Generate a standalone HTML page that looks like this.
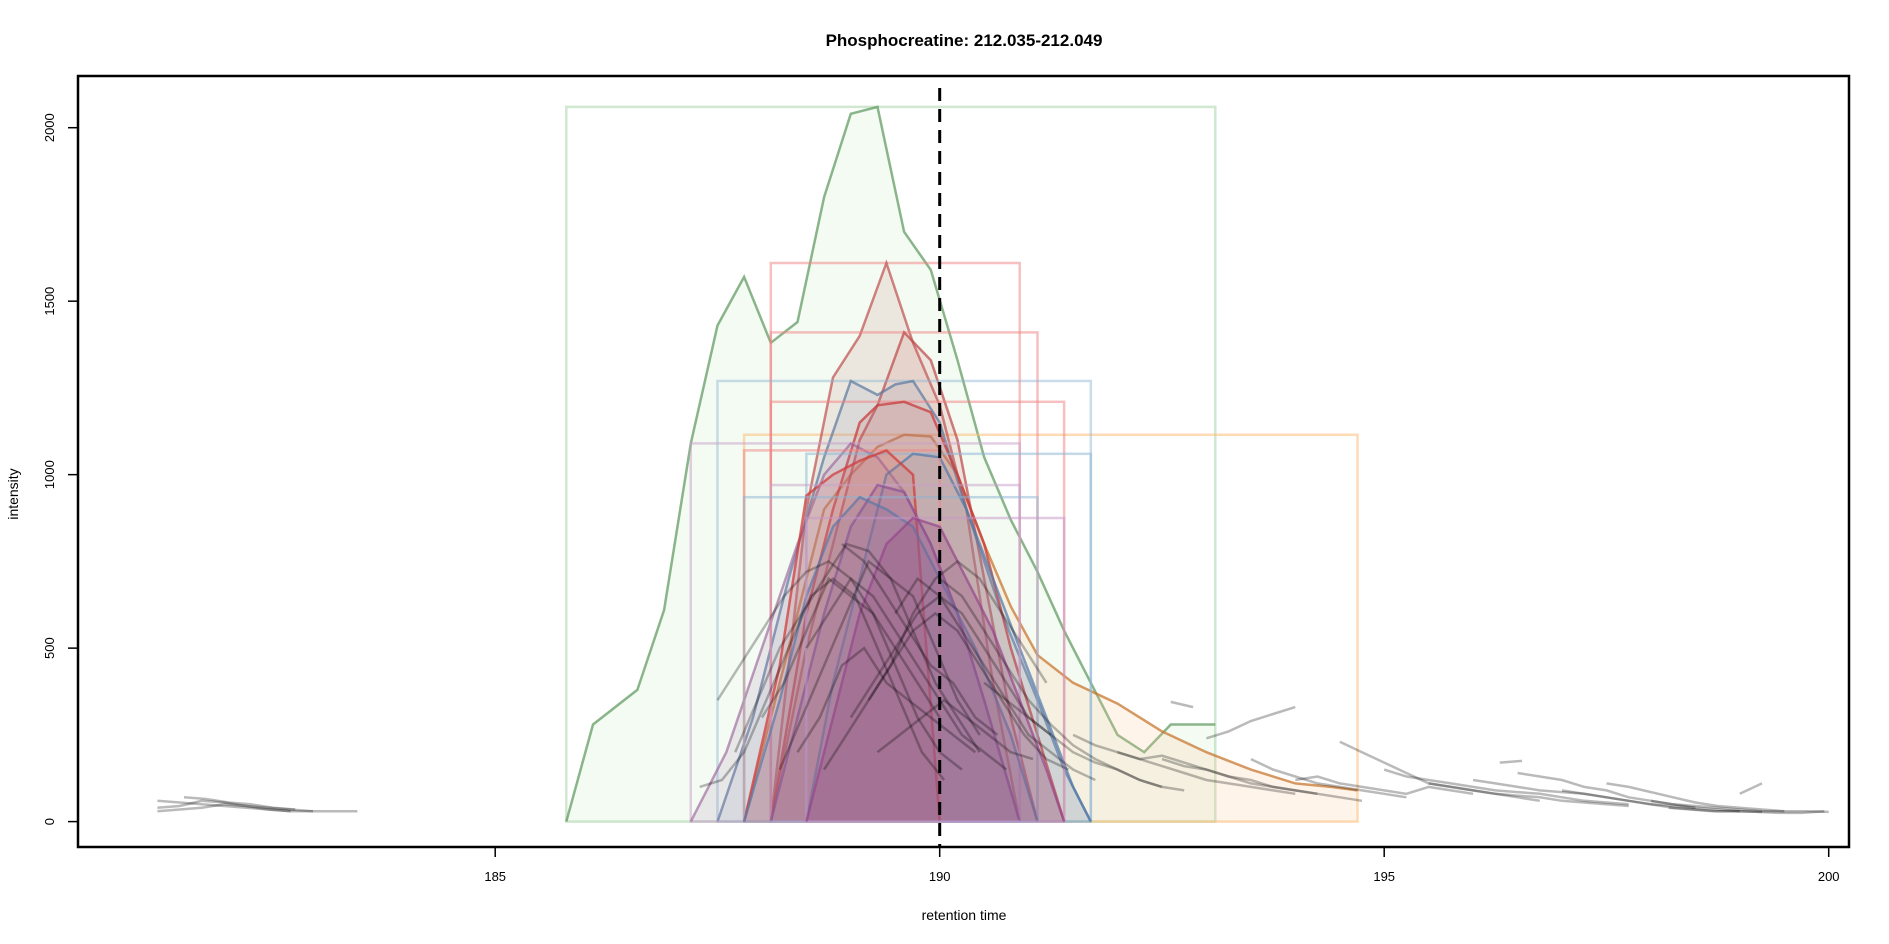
<!DOCTYPE html>
<html><head><meta charset="utf-8"><style>
body{margin:0;background:#fff}
svg{display:block;font-family:"Liberation Sans",sans-serif}
</style></head><body>
<svg id="chart" width="1889" height="944" viewBox="0 0 1889 944" xmlns="http://www.w3.org/2000/svg">
<rect x="0" y="0" width="1889" height="944" fill="#fff"/>
<text x="964" y="46" text-anchor="middle" font-size="17" font-weight="bold">Phosphocreatine: 212.035-212.049</text>
<text x="964" y="920" text-anchor="middle" font-size="14">retention time</text>
<text x="0" y="0" transform="translate(18,494) rotate(-90)" text-anchor="middle" font-size="14">intensity</text>
<g id="marks"></g>
<g id="axes"></g>
<rect x="78" y="76" width="1771" height="771" fill="none" stroke="#000" stroke-width="2.5"/>
</svg>
<script>
const xTicks = [185, 190, 195, 200];
const yTicks = [0, 500, 1000, 1500, 2000];
const markerRT = 190;
// colored feature peaks: box [start, end, height], trace times & values
const peakBoxes = [
  [185.8, 193.1, 2060],
  [187.8, 194.7, 1115],
  [188.1, 190.9, 1610],
  [188.1, 191.1, 1410],
  [187.5, 191.7, 1270],
  [188.1, 191.4, 1210],
  [187.2, 190.9, 1090],
  [188.5, 191.7, 1060],
  [187.8, 190.0, 1070],
  [188.1, 190.9, 970],
  [187.8, 191.1, 935],
  [188.5, 191.4, 875]
];
const peakTimes = [
  [185.8,186.1,186.6,186.9,187.2,187.5,187.8,188.1,188.4,188.7,189.0,189.3,189.6,189.9,190.2,190.5,190.8,191.1,191.4,191.7,192.0,192.3,192.6,192.9,193.1],
  [187.8,188.1,188.4,188.7,189.0,189.3,189.6,189.9,190.2,190.5,190.8,191.1,191.5,192.0,192.5,193.0,193.5,194.0,194.4,194.7],
  [188.1,188.5,188.8,189.1,189.4,189.7,190.0,190.3,190.6,190.9],
  [188.1,188.5,188.8,189.1,189.3,189.6,189.9,190.2,190.5,190.8,191.1],
  [187.5,187.9,188.3,188.7,189.0,189.3,189.5,189.7,190.0,190.3,190.7,191.1,191.4,191.7],
  [188.1,188.5,188.8,189.1,189.3,189.6,189.9,190.2,190.5,190.8,191.1,191.4],
  [187.2,187.6,188.0,188.4,188.7,189.0,189.3,189.6,189.9,190.2,190.5,190.9],
  [188.5,188.8,189.1,189.4,189.7,190.0,190.3,190.6,190.9,191.2,191.5,191.7],
  [187.8,188.2,188.5,188.8,189.1,189.4,189.7,190.0],
  [188.1,188.4,188.7,189.0,189.3,189.6,189.9,190.2,190.5,190.9],
  [187.8,188.2,188.5,188.8,189.1,189.4,189.7,190.0,190.4,190.8,191.1],
  [188.5,188.8,189.1,189.4,189.7,190.0,190.3,190.6,190.9,191.2,191.4]
];
const peakVals = [
  [0,280,380,610,1090,1430,1570,1380,1440,1800,2040,2060,1700,1590,1330,1050,870,720,550,400,250,200,280,280,280],
  [0,300,600,900,1000,1080,1115,1110,1000,800,620,480,400,340,260,200,150,110,100,90],
  [0,900,1280,1400,1610,1380,1200,900,400,0],
  [0,500,800,1100,1200,1410,1330,1100,700,300,0],
  [0,300,700,1050,1270,1230,1260,1270,1150,900,600,350,150,0],
  [0,600,900,1150,1200,1210,1180,1000,800,500,250,0],
  [0,200,500,800,1000,1090,1050,950,800,600,350,0],
  [0,400,700,1000,1060,1050,900,700,500,300,100,0],
  [0,450,940,1000,1040,1070,1000,0],
  [0,300,600,850,970,950,800,600,350,0],
  [0,350,650,850,935,900,850,700,500,250,0],
  [0,300,600,800,875,850,700,550,350,150,0]
];
const peakColors = [
  ["rgba(90,150,90,0.7)","rgba(200,235,200,0.22)","rgba(160,210,160,0.5)"],
  ["rgba(200,120,50,0.75)","rgba(253,200,150,0.2)","rgba(253,190,120,0.55)"],
  ["rgba(190,80,80,0.7)","rgba(200,120,110,0.15)","rgba(240,130,130,0.5)"],
  ["rgba(190,70,70,0.7)","rgba(200,100,100,0.15)","rgba(240,130,130,0.5)"],
  ["rgba(90,120,160,0.7)","rgba(130,150,180,0.15)","rgba(140,180,210,0.45)"],
  ["rgba(200,60,60,0.75)","rgba(200,90,90,0.15)","rgba(240,130,130,0.5)"],
  ["rgba(150,90,150,0.6)","rgba(170,120,170,0.15)","rgba(200,160,200,0.5)"],
  ["rgba(80,120,170,0.7)","rgba(120,150,190,0.18)","rgba(140,180,210,0.5)"],
  ["rgba(210,60,60,0.75)","rgba(210,100,100,0.2)","rgba(240,130,130,0.5)"],
  ["rgba(140,80,150,0.7)","rgba(150,90,150,0.25)","rgba(200,160,200,0.5)"],
  ["rgba(90,120,170,0.7)","rgba(130,110,160,0.25)","rgba(140,180,210,0.5)"],
  ["rgba(150,70,140,0.7)","rgba(150,80,130,0.3)","rgba(200,150,200,0.5)"]
];
// grey raw traces: start time, 0.25 min step, values
const greyStarts = [181.2,181.2,181.2,181.5,187.3,187.5,187.7,188.0,188.2,188.4,188.5,188.7,189.0,189.3,189.5,190.0,190.5,191.5,192.0,192.6,193.0,193.5,194.5,195.0,195.5,196.0,196.5,197.0,197.5,198.0,198.2,199.0,194.0,196.3,192.5,188.9,189.2];
const greyVals = [
  [60,55,50,45,40,35,30],
  [40,45,60,55,45,35,30,30],
  [30,35,40,50,45,40,35,30,30,30],
  [70,65,55,50,40,35],
  [100,120,200,350,500,650,700,650,500,350,200,120],
  [350,450,550,650,720,750,700,600,450,300,200,150],
  [200,350,500,600,700,800,780,700,550,400,300,200],
  [300,400,550,700,650,600,500,400,300],
  [150,300,450,600,750,700,650,500,350,250],
  [200,300,450,500,400,350,300,250,200],
  [500,600,700,650,550,450,350,250,200,150],
  [150,250,350,450,550,600,550,450,350,250,180,150],
  [300,400,500,600,650,600,500,400,300,250],
  [200,250,300,350,300,250,200,180],
  [600,700,650,550,450,350,250,200,150,120],
  [700,650,550,450,350,280,220,180,150,120,100],
  [400,350,300,250,200,170,150,120,100,90],
  [250,220,200,180,160,140,120,110,100,90,80],
  [200,180,190,170,150,130,120,100,90,80],
  [345,330],
  [240,260,290,310,330],
  [180,150,130,110,100,90,80,70],
  [230,200,170,140,110,100,90,80,70,60],
  [150,130,120,110,100,90,85,80,70,60,55,50],
  [110,100,90,80,75,70,60,55,50,45],
  [120,110,100,90,85,80,70,60,50,45,40],
  [140,130,120,100,90,70,60,50,40,35,30],
  [90,80,70,60,50,40,35,30,30,28],
  [110,100,85,70,55,45,40,35,30],
  [60,50,45,40,35,30,30,30,28],
  [40,35,30,30,28,25,25,30],
  [80,110],
  [120,130,110,100,90,80,100,90,80],
  [170,175],
  [180,160,150,130,110,100,90,80,70,60],
  [800,750,650,550,450,400,300,250],
  [350,450,600,700,750,700,600,500,400]
];
const greyStep = 0.25;

const NS = "http://www.w3.org/2000/svg";
const X = t => 939.7 + (t - 190) * 88.9;
const Y = v => 821.6 - v * 0.34695;
const marks = document.getElementById('marks');
const axes = document.getElementById('axes');
function mk(tag, attrs, parent) {
  const e = document.createElementNS(NS, tag);
  for (const k in attrs) e.setAttribute(k, attrs[k]);
  parent.appendChild(e);
  return e;
}
peakBoxes.forEach((b, i) => {
  const [lineC, fillC, boxC] = peakColors[i];
  const pts = peakTimes[i].map((t, j) => X(t).toFixed(1) + ',' + Y(peakVals[i][j]).toFixed(1));
  const area = mk('polygon', {points: pts.join(' ') + ' ' + X(peakTimes[i][peakTimes[i].length-1]).toFixed(1) + ',' + Y(0) + ' ' + X(peakTimes[i][0]).toFixed(1) + ',' + Y(0), fill: fillC, stroke: 'none'}, marks);
  
  
  const box = mk('rect', {x: X(b[0]), y: Y(b[2]), width: X(b[1]) - X(b[0]), height: Y(0) - Y(b[2]), fill: 'none', stroke: boxC, 'stroke-width': 2.5}, marks);
  
  
  const ln = mk('polyline', {points: pts.join(' '), fill: 'none', stroke: lineC, 'stroke-width': 2.5}, marks);
  
  
});
greyVals.forEach((vals, i) => {
  const pts = vals.map((v, j) => X(greyStarts[i] + j * greyStep).toFixed(1) + ',' + Y(v).toFixed(1));
  const g = mk('polyline', {points: pts.join(' '), fill: 'none', stroke: 'rgba(0,0,0,0.27)', 'stroke-width': 2.5}, marks);
  
  
});
const mline = mk('line', {x1: X(markerRT), x2: X(markerRT), y1: 88, y2: 847, stroke: '#000', 'stroke-width': 3, 'stroke-dasharray': '13,8'}, marks);


xTicks.forEach(t => {
  const tk = mk('line', {x1: X(t), x2: X(t), y1: 847, y2: 857, stroke: '#000', 'stroke-width': 1.5}, axes);
  
  
  const lb = mk('text', {x: X(t), y: 881, 'text-anchor': 'middle', 'font-size': 13}, axes);
  lb.textContent = t;
  
  
});
yTicks.forEach(v => {
  const tk = mk('line', {x1: 68, x2: 78, y1: Y(v), y2: Y(v), stroke: '#000', 'stroke-width': 1.5}, axes);
  
  
  const lb = mk('text', {x: 0, y: 0, transform: 'translate(54,' + Y(v) + ') rotate(-90)', 'text-anchor': 'middle', 'font-size': 13}, axes);
  lb.textContent = v;
  
  
});
</script>
</body></html>
